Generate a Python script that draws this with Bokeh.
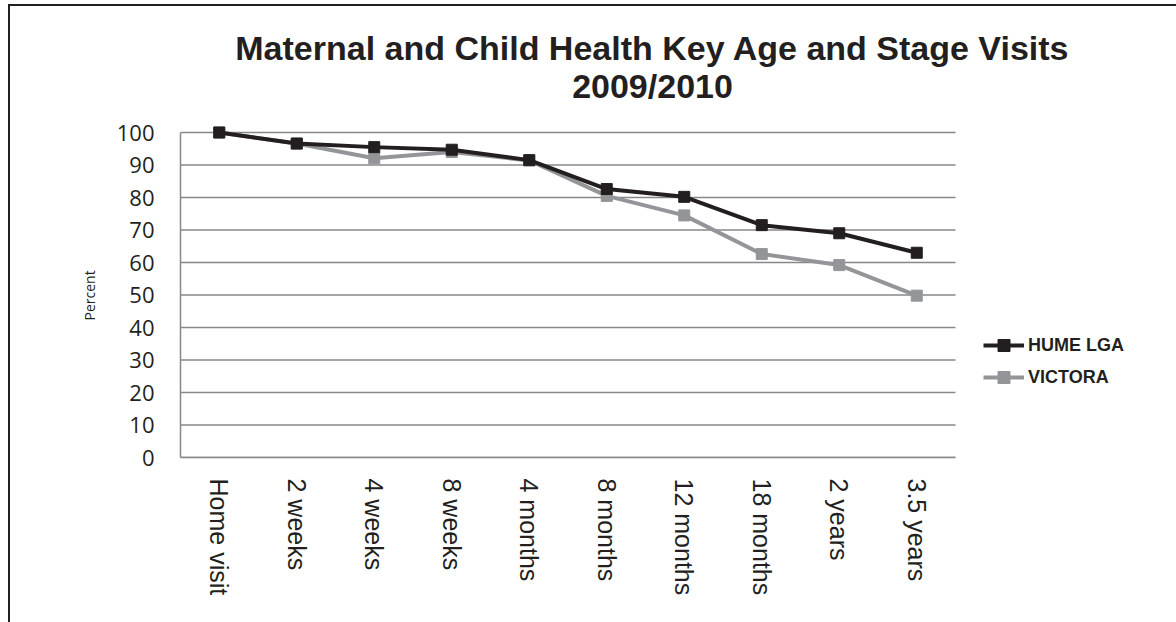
import math
from bokeh.plotting import figure
from bokeh.models import (Range1d, FixedTicker, Legend, LegendItem, Label,
                          Title, ColumnDataSource)
from bokeh.embed import file_html
from bokeh.resources import INLINE

categories = ["Home visit", "2 weeks", "4 weeks", "8 weeks", "4 months",
              "8 months", "12 months", "18 months", "2 years", "3.5 years"]
hume = [100, 96.6, 95.5, 94.7, 91.5, 82.6, 80.2, 71.5, 69.0, 63.0]
victoria = [100, 96.6, 92.1, 94.0, 91.4, 80.5, 74.5, 62.6, 59.2, 49.8]
y_ticks = [0, 10, 20, 30, 40, 50, 60, 70, 80, 90, 100]
series_names = ["HUME LGA", "VICTORA"]
title_lines = ["Maternal and Child Health Key Age and Stage Visits", "2009/2010"]
y_label = "Percent"

BLACK = "#231f20"
GREY = "#939598"
GRID = "#878787"

# pixel geometry (page coordinates)
OFF_X, OFF_Y = 10, 6            # canvas origin after the outer border
PX_X = 77.5                      # pixels per category
PX_Y = 3.25                      # pixels per percent
X0, Y0 = 180, 457                # page position of (0, 0)
FRAME_W = 1176 - X0
FRAME_H = Y0 - OFF_Y

xs = [i + 0.5 for i in range(len(categories))]
src = ColumnDataSource(dict(x=xs, hume=hume, vic=victoria))
grid_src = ColumnDataSource(dict(y=y_ticks, x0=[0] * len(y_ticks),
                                 x1=[len(categories)] * len(y_ticks)))

p = figure(frame_width=FRAME_W, frame_height=FRAME_H,
           min_border_left=X0 - OFF_X, min_border_right=0,
           min_border_top=0, min_border_bottom=622 - Y0,
           x_range=Range1d(0, FRAME_W / PX_X), y_range=Range1d(0, FRAME_H / PX_Y),
           output_backend="svg", toolbar_location=None,
           background_fill_color="white", border_fill_color="white")
p.outline_line_color = None
p.styles = {"margin-left": "8px", "margin-top": "4px",
            "border-left": "2px solid #231f20", "border-top": "2px solid #231f20"}

# axes
p.xaxis.ticker = FixedTicker(ticks=xs)
p.xaxis.bounds = (0, len(categories))
p.xaxis.major_label_overrides = {x: c for x, c in zip(xs, categories)}
p.xaxis.major_label_orientation = -math.pi / 2
p.xaxis.major_label_text_font = "Liberation Sans"
p.xaxis.major_label_text_font_size = "25px"
p.xaxis.major_label_text_color = BLACK
p.xaxis.major_label_standoff = 15
p.xaxis.major_tick_line_color = None
p.xaxis.minor_tick_line_color = None
p.xaxis.axis_line_color = GRID
p.xaxis.axis_line_width = 1.5

p.yaxis.ticker = FixedTicker(ticks=y_ticks)
p.yaxis.bounds = (0, 100)
p.yaxis.major_label_text_font = "Open Sans"
p.yaxis.major_label_text_font_size = "22px"
p.yaxis.major_label_text_color = BLACK
p.yaxis.major_label_standoff = 20
p.yaxis.major_tick_line_color = None
p.yaxis.minor_tick_line_color = None
p.yaxis.axis_line_color = GRID
p.yaxis.axis_line_width = 1.5

# y-axis title, centred on the 0-100 span rather than the whole frame
p.add_layout(Title(text=y_label, align="left", offset=137, standoff=30,
                   text_font="Open Sans", text_font_style="normal",
                   text_font_size="14px", text_color=BLACK), "left")

p.xgrid.grid_line_color = None
p.ygrid.grid_line_color = None

# horizontal gridlines limited to the plot area
p.segment(x0="x0", x1="x1", y0="y", y1="y", source=grid_src,
          line_color=GRID, line_width=1.5)

# series (Victoria underneath)
vl = p.line("x", "vic", source=src, line_color=GREY, line_width=4)
vm = p.scatter("x", "vic", source=src, marker="square", size=11,
               fill_color=GREY, line_color=GREY)
hl = p.line("x", "hume", source=src, line_color=BLACK, line_width=4)
hm = p.scatter("x", "hume", source=src, marker="square", size=11,
               fill_color=BLACK, line_color=BLACK)

legend = Legend(items=[LegendItem(label=series_names[0], renderers=[hl, hm]),
                       LegendItem(label=series_names[1], renderers=[vl, vm])],
                location=(803, 65), orientation="vertical",
                padding=0, margin=0, spacing=2,
                glyph_width=41, glyph_height=30, label_height=30,
                label_standoff=4, border_line_color=None,
                background_fill_alpha=0,
                label_text_font="Liberation Sans", label_text_font_style="bold",
                label_text_font_size="18px", label_text_color=BLACK)
p.add_layout(legend)

# title (inside the extended frame)
for line_text, base_y in zip(title_lines, [47, 85]):
    p.add_layout(Label(x=(652 - X0) / PX_X, y=(Y0 - base_y) / PX_Y,
                       text=line_text, text_align="center",
                       text_baseline="alphabetic", text_font="Liberation Sans",
                       text_font_style="bold", text_font_size="34px",
                       text_color=BLACK))

open("out.html", "w").write(file_html(p, INLINE))
